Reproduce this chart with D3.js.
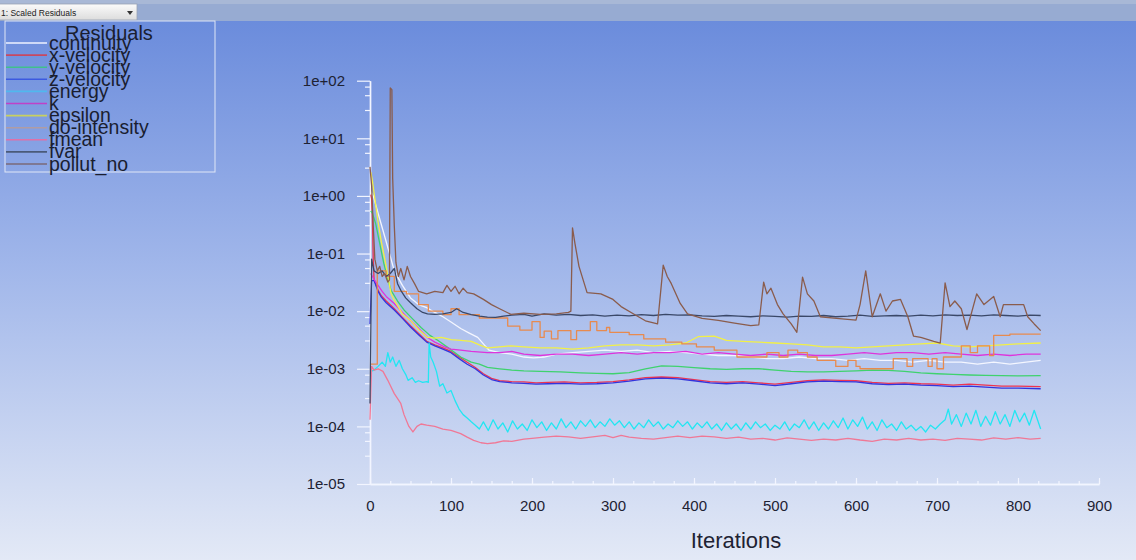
<!DOCTYPE html>
<html><head><meta charset="utf-8">
<script src="https://cdn.jsdelivr.net/npm/d3@7"></script>
<style>body{margin:0;overflow:hidden;background:#fff}svg{display:block}</style>
</head><body>
<svg id="chart" width="1136" height="560"></svg>
<script>
// ---------------- data ----------------
const seriesNames = ["continuity","x-velocity","y-velocity","z-velocity","energy","k","epsilon","do-intensity","fmean","fvar","pollut_no"];
const seriesColors = ["#f4f6ff","#ee3450","#3fd26e","#3434dc","#22e6f2","#de34dc","#f2f046","#e88a4e","#f07896","#3a4868","#8a5c4c"];
const legendColors = ["#eef2ff","#c84860","#40c08c","#3c5ae0","#50b8ee","#c040c8","#c8d060","#b09ca4","#e070a8","#4a5a78","#7a6a78"];

const continuity = [[1,1.2],[4,1.0],[10,0.5],[20,0.16],[30,0.05],[40,0.028],[50,0.017],[60,0.013],[70,0.0115],[80,0.0095],[90,0.008],[100,0.0065],[112,0.005],[122,0.0042],[133,0.0035],[140,0.0027],[147,0.0021],[160,0.0019],[175,0.0018],[190,0.0016],[202,0.00155],[215,0.0016],[230,0.0018],[250,0.0019],[270,0.002],[290,0.0021],[310,0.002],[330,0.0021],[350,0.0019],[370,0.002],[390,0.0019],[410,0.0018],[430,0.0017],[450,0.0017],[470,0.0016],[490,0.0015],[510,0.0015],[530,0.0016],[550,0.0015],[570,0.0015],[590,0.0014],[610,0.0015],[630,0.0014],[650,0.0014],[670,0.0013],[690,0.0014],[710,0.0013],[730,0.0013],[750,0.0012],[770,0.0013],[790,0.0012],[810,0.0013],[828,0.0014]];

const xVelocity = [[1,1.05],[2,0.9],[3,0.4],[4,0.08],[5,0.036],[10,0.023],[14,0.0185],[20,0.015],[30,0.011],[40,0.0078],[50,0.0056],[60,0.0041],[70,0.003],[80,0.0026],[90,0.0023],[100,0.002],[110,0.0016],[120,0.0013],[130,0.00105],[140,0.00082],[150,0.00068],[160,0.00062],[175,0.0006],[190,0.00059],[205,0.00057],[220,0.00058],[240,0.00059],[260,0.00057],[280,0.00058],[300,0.0006],[320,0.00064],[340,0.0007],[360,0.00072],[380,0.0007],[400,0.00065],[420,0.0006],[440,0.00058],[460,0.0006],[480,0.00057],[500,0.00054],[520,0.00058],[540,0.00062],[560,0.00064],[580,0.00063],[600,0.00062],[620,0.00058],[640,0.00056],[660,0.00057],[680,0.00055],[700,0.00054],[720,0.00052],[740,0.00054],[760,0.00052],[780,0.0005],[800,0.0005],[828,0.00049]];

const yVelocity = [[1,0.55],[3,0.5],[7,0.33],[12,0.15],[17,0.068],[22,0.035],[26,0.023],[34,0.015],[42,0.0105],[52,0.0075],[63,0.0052],[74,0.0038],[84,0.0031],[95,0.0024],[105,0.0019],[112,0.0016],[125,0.0013],[135,0.0012],[145,0.00106],[160,0.001],[175,0.00095],[190,0.00092],[210,0.0009],[235,0.00088],[260,0.00085],[280,0.00083],[300,0.00082],[320,0.00086],[340,0.001],[360,0.00112],[380,0.0011],[400,0.00105],[420,0.001],[440,0.00098],[460,0.001],[480,0.001],[500,0.00095],[520,0.0009],[540,0.00088],[560,0.00088],[580,0.0009],[600,0.00092],[620,0.00095],[640,0.00094],[660,0.0009],[680,0.00085],[700,0.00082],[720,0.0008],[740,0.00078],[760,0.00077],[780,0.00076],[800,0.00075],[828,0.00076]];

const zVelocity = [[0,0.006],[2,0.034],[5,0.034],[10,0.022],[14,0.0175],[20,0.014],[30,0.0105],[40,0.0075],[50,0.0053],[60,0.0039],[70,0.0029],[80,0.0025],[90,0.0022],[100,0.0019],[110,0.0015],[120,0.0012],[130,0.001],[140,0.00078],[150,0.00065],[160,0.0006],[175,0.00057],[190,0.00056],[205,0.00054],[220,0.00055],[240,0.00056],[260,0.00054],[280,0.00055],[300,0.00057],[320,0.00061],[340,0.00067],[360,0.00069],[380,0.00067],[400,0.00062],[420,0.00057],[440,0.00055],[460,0.00057],[480,0.00054],[500,0.00051],[520,0.00055],[540,0.00059],[560,0.00061],[580,0.0006],[600,0.00059],[620,0.00055],[640,0.00053],[660,0.00054],[680,0.00052],[700,0.00051],[720,0.00049],[740,0.0005],[760,0.00048],[780,0.00046],[800,0.00046],[828,0.00045]];

const energy = [[1,0.0009],[5,0.00095],[10,0.0011],[15,0.0013],[19,0.0011],[22,0.0019],[25,0.0013],[28,0.0016],[32,0.0011],[36,0.0014],[40,0.001],[44,0.0008],[47,0.00063],[52,0.0007],[56,0.00058],[60,0.00062],[65,0.00058],[70,0.0006],[72,0.00058],[73,0.0028],[75,0.0016],[78,0.0013],[82,0.0009],[86,0.0005],[90,0.00055],[95,0.00038],[100,0.00042],[105,0.00028],[110,0.0002],[115,0.00016],[120,0.00014],[125,0.00012],[130,0.000105],[135,0.00009],
[140,1.2e-4],[146,0.85e-4],[152,1.3e-4],[158,0.9e-4],[164,1.15e-4],[170,0.8e-4],[176,1.25e-4],[182,0.9e-4],[188,1.1e-4],[194,0.85e-4],[200,1.3e-4],[206,0.95e-4],[212,1.2e-4],[218,0.85e-4],[224,1.15e-4],[230,0.9e-4],[236,1.35e-4],[242,0.95e-4],[248,1.2e-4],[254,0.9e-4],[260,1.25e-4],[266,1.0e-4],[272,1.3e-4],[278,0.95e-4],[284,1.2e-4],[290,1.0e-4],[296,1.35e-4],[302,1.05e-4],[308,1.25e-4],[314,0.95e-4],[320,1.2e-4],[326,0.9e-4],[332,1.15e-4],[338,0.95e-4],[344,1.3e-4],[350,1.0e-4],[356,1.2e-4],[362,0.9e-4],[368,1.1e-4],[374,0.95e-4],[380,1.25e-4],[386,1.0e-4],[392,1.2e-4],[398,0.9e-4],[404,1.15e-4],[410,0.95e-4],[416,1.2e-4],[422,0.9e-4],[428,1.1e-4],[434,0.85e-4],[440,1.15e-4],[446,0.9e-4],[452,1.1e-4],[458,0.85e-4],[464,1.15e-4],[470,0.9e-4],[476,1.2e-4],[482,0.95e-4],[488,1.1e-4],[494,0.85e-4],[500,1.05e-4],[506,0.9e-4],[512,1.2e-4],[518,0.85e-4],[524,1.1e-4],[530,0.95e-4],[536,1.3e-4],[542,0.9e-4],[548,1.2e-4],[554,0.85e-4],[560,1.15e-4],[566,0.9e-4],[572,1.25e-4],[578,0.95e-4],[584,1.4e-4],[590,0.9e-4],[596,1.3e-4],[602,1.0e-4],[608,1.45e-4],[614,0.9e-4],[620,1.2e-4],[626,0.85e-4],[632,1.3e-4],[638,0.95e-4],[644,1.1e-4],[650,0.85e-4],[656,1.2e-4],[662,0.9e-4],[668,1.05e-4],[674,0.85e-4],[680,1.0e-4],[686,0.8e-4],[692,1.05e-4],[698,0.9e-4],[704,1.1e-4],[710,1.3e-4],[714,2.0e-4],[718,1.1e-4],[724,1.6e-4],[730,1.0e-4],[736,1.7e-4],[742,1.1e-4],[748,1.9e-4],[754,1.0e-4],[760,1.5e-4],[766,1.05e-4],[772,1.8e-4],[778,1.1e-4],[784,1.6e-4],[790,1.0e-4],[796,1.9e-4],[802,1.2e-4],[808,1.7e-4],[814,1.05e-4],[820,1.9e-4],[828,0.9e-4]];

const kTurb = [[1,0.045],[3,0.04],[6,0.034],[10,0.028],[15,0.022],[20,0.018],[30,0.0136],[40,0.0095],[50,0.0069],[60,0.005],[71,0.0035],[80,0.0029],[92,0.0024],[100,0.0022],[112,0.0021],[125,0.002],[145,0.0019],[160,0.0019],[175,0.002],[190,0.0018],[210,0.0017],[230,0.0018],[250,0.0018],[270,0.0017],[290,0.0018],[310,0.0019],[330,0.0018],[350,0.0019],[370,0.0019],[390,0.002],[410,0.0018],[430,0.0019],[450,0.0018],[470,0.0017],[490,0.0018],[510,0.0017],[530,0.0018],[550,0.0017],[570,0.0017],[590,0.0018],[610,0.0019],[630,0.0018],[650,0.0019],[670,0.0019],[690,0.0018],[710,0.0019],[730,0.0018],[750,0.0017],[770,0.0018],[790,0.0017],[810,0.0018],[828,0.0018]];

const epsilon = [[1,2.6],[3,1.8],[6,0.9],[10,0.35],[14,0.16],[20,0.06],[26,0.02],[30,0.0155],[40,0.009],[50,0.0069],[60,0.0048],[71,0.0035],[80,0.0034],[88,0.0035],[100,0.0032],[112,0.0031],[125,0.003],[135,0.0026],[145,0.0023],[160,0.0024],[174,0.0025],[190,0.0024],[210,0.0023],[230,0.0023],[250,0.0022],[270,0.0023],[290,0.0025],[310,0.0026],[330,0.0026],[350,0.0025],[370,0.0026],[390,0.0028],[405,0.0036],[425,0.0037],[440,0.0031],[460,0.003],[480,0.0029],[500,0.0028],[520,0.0027],[540,0.0026],[560,0.0024],[580,0.0024],[600,0.0023],[620,0.0024],[640,0.0025],[660,0.0026],[680,0.0027],[700,0.0028],[720,0.0025],[740,0.0024],[760,0.0025],[780,0.0026],[800,0.0027],[828,0.0028]];

const doIntensity = [[0,0.0012],[9,0.05],[20,0.04],[30,0.022],[45,0.02],[60,0.013],[72,0.01],[90,0.0087],[100,0.011],[110,0.0087],[135,0.0076],[170,0.0055],[185,0.0047],[200,0.0066],[210,0.0035],[215,0.0045],[224,0.0033],[232,0.0046],[248,0.0032],[255,0.0046],[272,0.0066],[280,0.0046],[292,0.0052],[296,0.0043],[320,0.0039],[338,0.0033],[365,0.0029],[385,0.0027],[403,0.0024],[425,0.0021],[453,0.0016],[490,0.0019],[505,0.0016],[516,0.0021],[528,0.0019],[540,0.0016],[552,0.0014],[575,0.0011],[590,0.0014],[600,0.0011],[605,0.001],[646,0.0015],[663,0.0011],[670,0.0015],[689,0.0011],[694,0.0015],[700,0.001],[708,0.0016],[730,0.0025],[741,0.0019],[750,0.0025],[765,0.0017],[770,0.0038],[790,0.004],[828,0.004]];

const fmean = [[0,0.00013],[2,0.0011],[5,0.00095],[10,0.001],[16,0.0009],[22,0.00063],[30,0.00037],[38,0.00025],[42,0.00016],[48,0.0001],[53,0.00008],[58,0.0001],[63,0.00011],[70,0.000105],[80,0.0001],[90,0.00009],[100,0.000085],[112,0.000075],[120,0.000065],[128,0.000057],[137,0.000052],[145,0.00005],[155,0.000052],[165,0.000056],[175,0.000055],[190,0.00006],[200,0.000062],[215,0.000065],[230,0.000068],[245,0.000066],[260,0.000062],[275,0.000066],[290,0.00007],[300,0.000064],[310,0.00007],[320,0.000065],[335,0.000062],[350,0.00006],[365,0.000064],[380,0.000068],[395,0.000064],[410,0.000068],[425,0.000066],[440,0.000062],[455,0.000065],[470,0.00006],[485,0.000062],[500,0.000058],[515,0.000063],[530,0.00006],[545,0.000057],[560,0.00006],[575,0.000058],[590,0.000062],[605,0.000058],[620,0.000055],[635,0.00006],[650,0.000058],[665,0.000062],[680,0.000058],[695,0.00006],[710,0.000057],[725,0.000062],[740,0.00006],[755,0.000058],[770,0.000063],[785,0.00006],[800,0.000064],[815,0.00006],[828,0.000062]];

const fvar = [[0,0.00025],[2,0.08],[5,0.05],[10,0.045],[15,0.05],[20,0.04],[25,0.045],[30,0.055],[34,0.03],[38,0.023],[44,0.017],[50,0.014],[58,0.011],[65,0.0095],[71,0.009],[80,0.0088],[90,0.009],[100,0.0095],[107,0.011],[115,0.0095],[125,0.0087],[135,0.0082],[145,0.0079],[155,0.0078],[165,0.0082],[175,0.0085],[190,0.0088],[200,0.0082],[215,0.009],[230,0.0085],[245,0.0088],[260,0.0084],[275,0.0086],[290,0.0082],[305,0.0085],[320,0.0083],[335,0.0087],[350,0.0084],[365,0.0088],[380,0.0085],[395,0.0086],[410,0.0083],[425,0.0081],[440,0.0084],[455,0.0082],[470,0.008],[485,0.0083],[500,0.0081],[515,0.0079],[530,0.0082],[545,0.0081],[560,0.0084],[575,0.008],[590,0.0082],[605,0.0085],[620,0.0081],[635,0.0083],[650,0.0084],[665,0.0082],[680,0.0085],[695,0.0083],[710,0.0086],[725,0.0084],[740,0.0085],[755,0.0083],[770,0.0086],[785,0.0084],[800,0.0082],[815,0.0085],[828,0.0084]];

const pollutNo = [[0,3.2],[2,1.5],[4,0.3],[6,0.08],[9,0.05],[12,0.06],[15,0.04],[18,0.045],[22,0.032],[24,0.035],[25,75],[27,70],[28,2],[30,0.3],[32,0.07],[35,0.04],[38,0.055],[42,0.035],[46,0.06],[50,0.04],[55,0.03],[60,0.022],[70,0.02],[80,0.022],[90,0.021],[95,0.028],[100,0.022],[105,0.027],[110,0.02],[115,0.025],[120,0.021],[128,0.02],[140,0.016],[150,0.013],[160,0.011],[174,0.0088],[190,0.0092],[210,0.0088],[230,0.009],[245,0.0095],[248,0.01],[250,0.28],[253,0.15],[258,0.06],[268,0.021],[285,0.02],[300,0.016],[310,0.012],[325,0.009],[340,0.0068],[355,0.006],[362,0.063],[367,0.04],[372,0.03],[383,0.0136],[392,0.009],[410,0.0075],[430,0.0069],[450,0.0062],[470,0.0056],[480,0.0058],[486,0.032],[490,0.02],[495,0.025],[503,0.013],[510,0.009],[520,0.006],[527,0.0043],[534,0.039],[540,0.02],[548,0.015],[556,0.008],[576,0.0075],[600,0.007],[605,0.013],[612,0.05],[620,0.008],[630,0.02],[637,0.01],[645,0.015],[655,0.016],[664,0.008],[671,0.0037],[680,0.0035],[696,0.003],[704,0.0028],[710,0.031],[716,0.012],[722,0.015],[730,0.011],[737,0.0048],[749,0.02],[758,0.013],[770,0.018],[778,0.008],[782,0.013],[795,0.013],[807,0.013],[812,0.008],[820,0.006],[828,0.0046]];

const seriesData = [continuity,xVelocity,yVelocity,zVelocity,energy,kTurb,epsilon,doIntensity,fmean,fvar,pollutNo];

const yTickValues = [1e2,1e1,1e0,1e-1,1e-2,1e-3,1e-4,1e-5];
const yTickLabels = ["1e+02","1e+01","1e+00","1e-01","1e-02","1e-03","1e-04","1e-05"];
const yMinorFactors = [0.79,0.56,0.31];
const xTickValues = [0,100,200,300,400,500,600,700,800,900];
const xMinorStep = 25;
const xTitle = "Iterations";
const legendTitle = "Residuals";
const panelTitle = "1: Scaled Residuals";

// ---------------- drawing ----------------
const svg = d3.select("#chart");
const W = 1136, H = 560;
const defs = svg.append("defs");
const bg = defs.append("linearGradient").attr("id","bg").attr("x1",0).attr("y1",0).attr("x2",0).attr("y2",1);
bg.append("stop").attr("offset","0%").attr("stop-color","#6b8cdc");
bg.append("stop").attr("offset","45%").attr("stop-color","#a0b6ea");
bg.append("stop").attr("offset","100%").attr("stop-color","#e3e9f6");
const dd = defs.append("linearGradient").attr("id","dd").attr("x1",0).attr("y1",0).attr("x2",0).attr("y2",1);
dd.append("stop").attr("offset","0%").attr("stop-color","#fbfbfb");
dd.append("stop").attr("offset","100%").attr("stop-color","#dcdcdc");

// top strip and background
svg.append("rect").attr("x",0).attr("y",0).attr("width",W).attr("height",21).attr("fill","#97abd2");
svg.append("rect").attr("x",0).attr("y",0).attr("width",W).attr("height",4).attr("fill","#a8b8d6");
svg.append("rect").attr("x",0).attr("y",21).attr("width",W).attr("height",H-21).attr("fill","url(#bg)");
// dropdown
svg.append("rect").attr("x",-1).attr("y",4).attr("width",138).attr("height",16).attr("fill","url(#dd)").attr("stroke","#9aa3b5").attr("stroke-width",0.8);
svg.append("text").attr("x",1).attr("y",15.5).attr("font-family","Liberation Sans, Arial, sans-serif").attr("font-size",8.5).attr("fill","#222").text(panelTitle);
svg.append("path").attr("d","M127,11 L133,11 L130,15 Z").attr("fill","#333");

// scales
const x = d3.scaleLinear().domain([0,900]).range([370,1099]);
const y = d3.scaleLog().domain([1e-5,1e2]).range([484,80.7]);

// axes
const axisColor = "#f2f5ff";
const minorY = [];
yTickValues.forEach(v => { if (v > 1e-5) yMinorFactors.forEach(f => minorY.push(v*f)); });
const gyMinor = svg.append("g").attr("transform","translate(370,0)")
  .call(d3.axisLeft(y).tickValues(minorY).tickSize(5).tickSizeOuter(0).tickFormat(""));
const gy = svg.append("g").attr("transform","translate(370,0)")
  .call(d3.axisLeft(y).tickValues(yTickValues).tickSize(13).tickSizeOuter(0).tickPadding(12)
    .tickFormat((d,i) => yTickLabels[i]));
const minorX = d3.range(0, 901, xMinorStep);
const gxMinor = svg.append("g").attr("transform","translate(0,484)")
  .call(d3.axisBottom(x).tickValues(minorX).tickSize(-3).tickSizeOuter(0).tickFormat(""));
const gx = svg.append("g").attr("transform","translate(0,484)")
  .call(d3.axisBottom(x).tickValues(xTickValues).tickSize(-6).tickSizeOuter(0).tickPadding(16));
[gy,gx,gyMinor,gxMinor].forEach(g => {
  g.selectAll("path.domain").attr("stroke",axisColor).attr("stroke-width",1.4);
  g.selectAll(".tick line").attr("stroke",axisColor).attr("stroke-width",1.2);
});
gy.selectAll("text").attr("font-family","Liberation Sans, Arial, sans-serif").attr("font-size",15).attr("fill","#1e2233");
gx.selectAll("text").attr("font-family","Liberation Sans Narrow, Liberation Sans, Arial, sans-serif").attr("font-size",15).attr("fill","#1e2233");

svg.append("text").attr("x",736).attr("y",548).attr("text-anchor","middle")
  .attr("font-family","Liberation Sans, Arial, sans-serif").attr("font-size",22).attr("fill","#1e2233").text(xTitle);

// lines
const line = d3.line().x(d => x(d[0])).y(d => y(d[1]));
const stepLine = d3.line().x(d => x(d[0])).y(d => y(d[1])).curve(d3.curveStepAfter);
const gl = svg.append("g").attr("fill","none").attr("stroke-linejoin","round");
seriesData.forEach((data,i) => {
  gl.append("path").datum(data)
    .attr("d", seriesNames[i] === "do-intensity" ? stepLine : line)
    .attr("stroke", seriesColors[i]).attr("stroke-width", 1.3);
});

// legend
const lg = svg.append("g");
lg.append("rect").attr("x",5).attr("y",21).attr("width",210).attr("height",151)
  .attr("fill","none").attr("stroke","#dfe6f6").attr("stroke-width",1);
lg.append("text").attr("x",65).attr("y",40).attr("font-family","Liberation Sans, Arial, sans-serif")
  .attr("font-size",20).attr("fill","#1a1e30").text(legendTitle);
seriesNames.forEach((name,i) => {
  const ly = 43 + i*12.1;
  lg.append("line").attr("x1",6).attr("x2",47).attr("y1",ly).attr("y2",ly)
    .attr("stroke",legendColors[i]).attr("stroke-width",1.6);
  lg.append("text").attr("x",49).attr("y",ly+6.5).attr("font-family","Liberation Sans, Arial, sans-serif")
    .attr("font-size",19.5).attr("fill","#1a1e30").text(name);
});
</script>
</body></html>
